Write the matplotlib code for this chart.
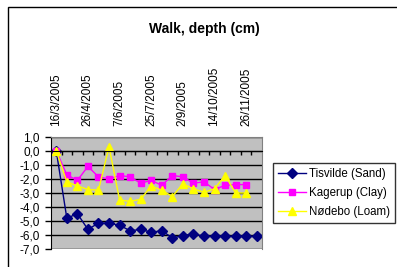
import matplotlib
matplotlib.use("Agg")
import matplotlib.pyplot as plt
from matplotlib.patches import Rectangle
from matplotlib.ticker import FixedLocator, FuncFormatter

plt.rcParams['font.family'] = ['Liberation Sans', 'DejaVu Sans']

# sampling dates (only every 3rd one is labelled on the chart)
dates = ['16/3/2005', '30/3/2005', '12/4/2005', '26/4/2005', '10/5/2005',
         '24/5/2005', '7/6/2005', '21/6/2005', '7/7/2005', '25/7/2005',
         '8/8/2005', '18/8/2005', '2/9/2005', '15/9/2005', '29/9/2005',
         '14/10/2005', '28/10/2005', '11/11/2005', '26/11/2005', '9/12/2005']

tisvilde = [0.0, -4.8, -4.48, -5.6, -5.15, -5.15, -5.3, -5.7, -5.6, -5.8,
            -5.7, -6.2, -6.05, -5.9, -6.1, -6.1, -6.1, -6.1, -6.1, -6.1]
kagerup = [0.0, -1.7, -2.1, -1.1, -1.85, -2.0, -1.75, -1.85, -2.3, -2.1,
           -2.45, -1.75, -1.85, -2.3, -2.2, -2.75, -2.45, -2.4, -2.4]
nodebo = [0.0, -2.2, -2.5, -2.75, -2.8, 0.3, -3.5, -3.6, -3.45, -2.5,
          -2.8, -3.25, -2.35, -2.7, -2.95, -2.7, -1.75, -3.0, -3.0]

fig = plt.figure(figsize=(3.97, 2.67), dpi=100)
fig.patch.set_facecolor('white')

# outer chart frame (only left/top visible in the crop)
fig.add_artist(Rectangle((8/397, -0.5), 2, 0.974 + 0.5, transform=fig.transFigure,
                         fill=False, edgecolor='black', lw=1))

ax = fig.add_axes([51/397, 18/267, 211/397, 112/267])
ax.set_facecolor('#c0c0c0')

x = list(range(len(dates)))
ax.plot(x, tisvilde, color='#000080', marker='D', ms=4.8, lw=1, label='Tisvilde (Sand)')
ax.plot(x[:len(kagerup)], kagerup, color='#ff00ff', marker='s', ms=5, lw=1, label='Kagerup (Clay)')
ax.plot(x[:len(nodebo)], nodebo, color='#ffff00', marker='^', ms=6, lw=1, label='Nødebo (Loam)')

ax.set_xlim(-0.5, len(dates) - 0.5)
ax.set_ylim(-7, 1)
ax.set_yticks(range(-7, 2))
ax.yaxis.set_major_formatter(FuncFormatter(lambda v, p: f'{v:.1f}'.replace('.', ',')))
ax.tick_params(axis='y', direction='out', length=4, width=1, pad=4, labelsize=8.5)
ax.grid(axis='y', color='black', lw=1)
ax.set_axisbelow(True)

# category axis crosses at zero, ticks between categories
ax.spines['bottom'].set_position(('data', 0))
ax.xaxis.set_major_locator(FixedLocator([i + 0.5 for i in x[:-1]]))
ax.tick_params(axis='x', direction='out', length=3, width=1, labelbottom=False)
for s in ['top', 'right']:
    ax.spines[s].set_color('#808080')
ax.spines['left'].set_color('black')

sec = ax.secondary_xaxis('top')
sec.set_xticks(x[::3], [dates[i] for i in x[::3]])
sec.tick_params(length=0, pad=8, labelsize=8.5, labelrotation=90)
sec.spines['top'].set_visible(False)

fig.text(204/397, 1 - 29/267, 'Walk, depth (cm)', ha='center', va='center',
         fontsize=10, fontweight='bold')

leg = fig.legend(loc='center', bbox_to_anchor=(273/397, 1 - 224/267, 122/397, 62/267),
                 fontsize=8.3, frameon=True, fancybox=False, edgecolor='black',
                 borderpad=0.45, handlelength=2.4, labelspacing=0.6, handletextpad=0.3)
leg.get_frame().set_linewidth(1)

fig.savefig('out.png', dpi=100)
